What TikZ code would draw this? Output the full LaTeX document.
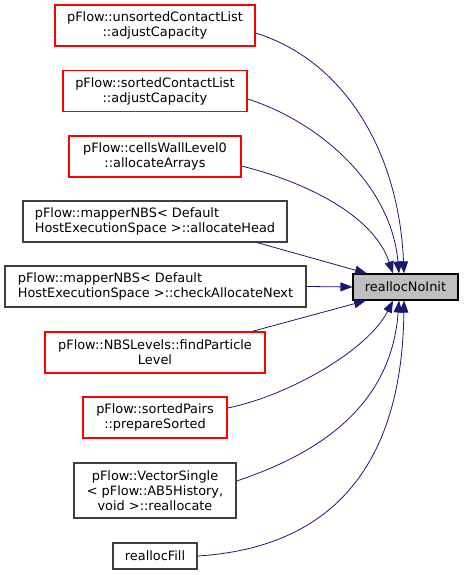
\documentclass[tikz,border=0pt]{standalone}
\usepackage{fontspec}
\setmainfont{DejaVu Sans}
\usetikzlibrary{arrows.meta,positioning}
\usepackage{xcolor}
\definecolor{edgeblue}{RGB}{25,25,112}
\definecolor{linkgrey}{RGB}{64,64,64}
\definecolor{focusgrey}{RGB}{191,191,191}
\definecolor{truncred}{RGB}{255,0,0}

\begin{document}
\begin{tikzpicture}[x=1bp, y=-1bp,
        fn/.style={rectangle, draw=linkgrey, line width=1.1bp, minimum height=41bp, inner sep=0pt, align=center, font=\fontsize{12.9bp}{15bp}\selectfont},
        trunc/.style={fn, draw=truncred},
        arrow/.style={-{Triangle[length=12bp,width=9bp]}, draw=edgeblue, line width=0.8bp}
    ]
        \useasboundingbox (0,0) rectangle (464,575);

        % Callers
        \node[trunc, minimum width=200bp] (unsorted) at (155,25.5) {pFlow::unsortedContactList\\::adjustCapacity};
        \node[trunc, minimum width=184bp] (sortedcl) at (155,91) {pFlow::sortedContactList\\::adjustCapacity};
        \node[trunc, minimum width=172bp] (cellswall) at (155,156.5) {pFlow::cellsWallLevel0\\::allocateArrays};
        \node[fn, minimum width=264bp, align=left] (allochead) at (155,221.5) {pFlow::mapperNBS< Default\\HostExecutionSpace >::allocateHead};
        \node[fn, minimum width=301bp, align=left] (checknext) at (155.5,286.5) {pFlow::mapperNBS< Default\\HostExecutionSpace >::checkAllocateNext};
        \node[trunc, minimum width=220bp] (findlevel) at (155,352.5) {pFlow::NBSLevels::findParticle\\Level};
        \node[trunc, minimum width=144bp] (prepsorted) at (155,417.5) {pFlow::sortedPairs\\::prepareSorted};
        \node[fn, minimum width=162bp, minimum height=55bp] (vecsingle) at (155,490.5) {pFlow::VectorSingle\\< pFlow::AB5History,\\void >::reallocate};
        \node[fn, minimum width=84bp, minimum height=26bp] (fill) at (155,556) {reallocFill};

        % Callee
        \node[fn, draw=black, fill=focusgrey, minimum width=105bp, minimum height=26bp] (noinit) at (405.5,287) {reallocNoInit};

        % Calls
        \draw[arrow] ([yshift=-7.5bp]unsorted.east) .. controls +(90,28) and +(-5,-120) .. ([xshift=-1.5bp]noinit.north);
        \draw[arrow] ([yshift=-8bp]sortedcl.east) .. controls +(70,22) and +(-8,-90) .. ([xshift=-6.5bp]noinit.north);
        \draw[arrow] ([yshift=-9.5bp]cellswall.east) .. controls +(60,15) and +(-20,-60) .. ([xshift=-12.5bp]noinit.north);
        \draw[arrow] ([xshift=102bp]allochead.south) -- ([xshift=-38.5bp]noinit.north);
        \draw[arrow] (checknext.east) -- (noinit.west);
        \draw[arrow] ([xshift=97bp]findlevel.north) -- ([xshift=-39.5bp]noinit.south);
        \draw[arrow] ([yshift=9.5bp]prepsorted.east) .. controls +(60,-12) and +(-25,50) .. ([xshift=-12.5bp]noinit.south);
        \draw[arrow] ([yshift=9.5bp]vecsingle.east) .. controls +(75,-25) and +(-8,110) .. ([xshift=-6.5bp]noinit.south);
        \draw[arrow] (fill.east) .. controls +(130,-8) and +(-2,170) .. ([xshift=-1.5bp]noinit.south);

    \end{tikzpicture}
\end{document}
